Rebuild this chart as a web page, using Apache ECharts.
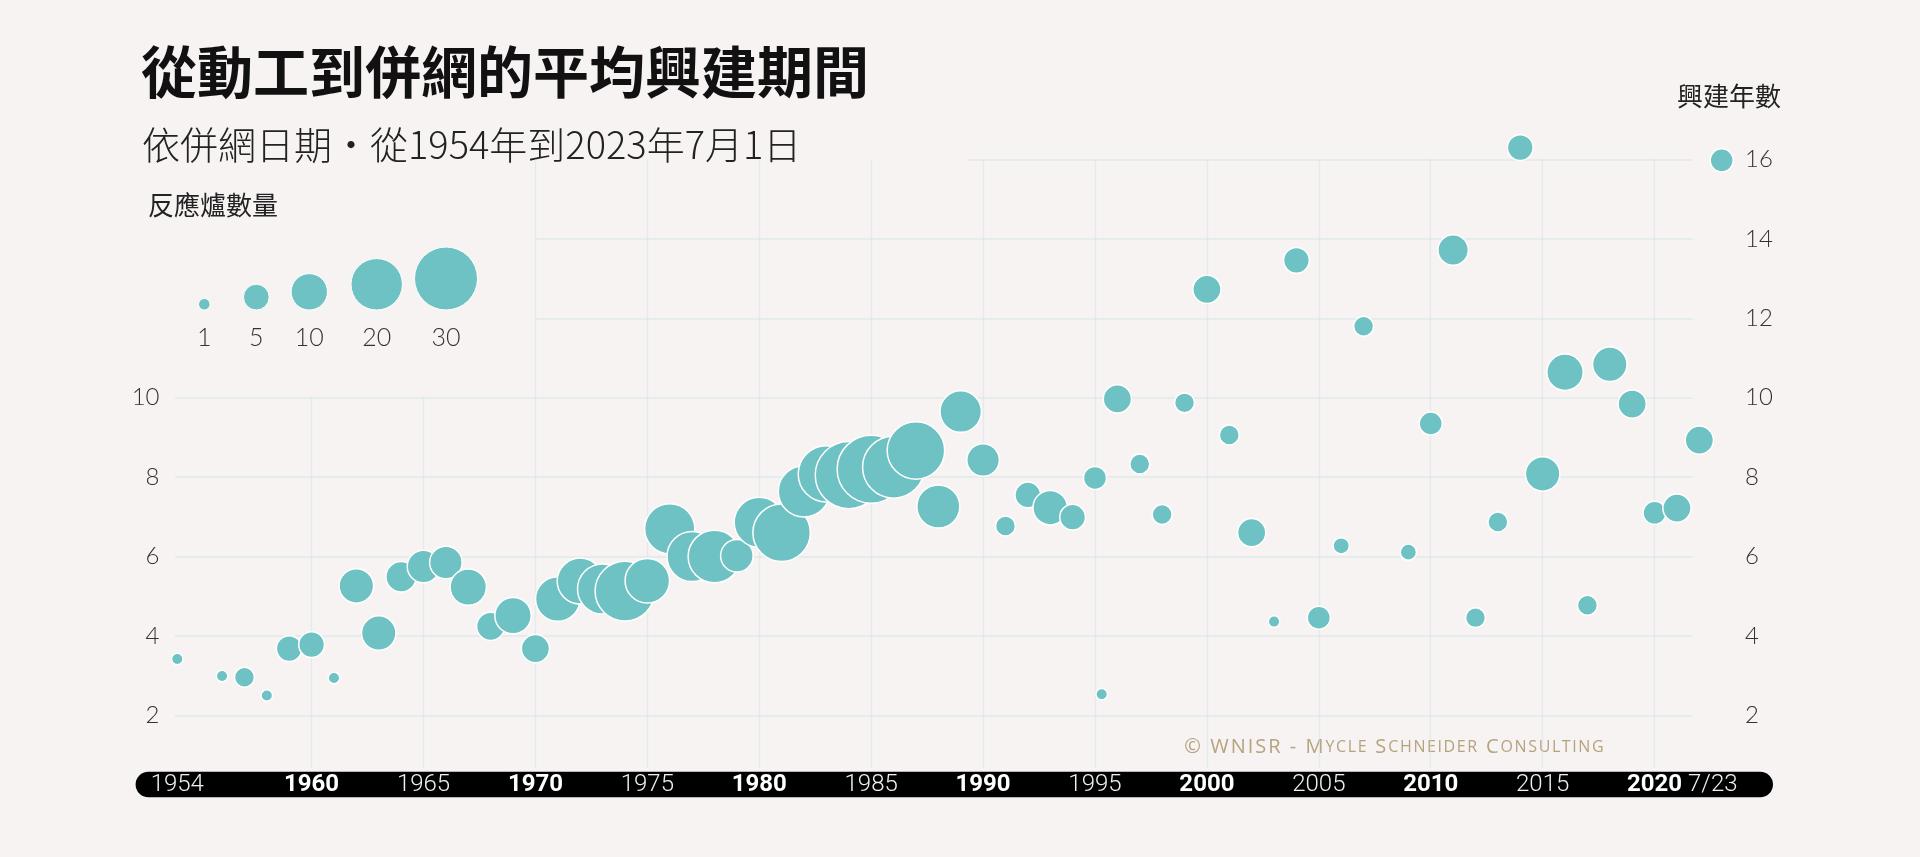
<!DOCTYPE html>
<html lang="zh-Hant">
<head>
<meta charset="utf-8">
<script src="https://cdn.jsdelivr.net/npm/echarts@6/dist/echarts.min.js"></script>
<style>
html,body{margin:0;padding:0;background:#f7f3f2;}
#chart{width:1920px;height:857px;}
</style>
</head>
<body>
<div id="chart"></div>
<script>
// ---- data ----
const years = [1954,1956,1957,1958,1959,1960,1961,1962,1963,1964,1965,1966,1967,1968,1969,1970,1971,1972,1973,1974,1975,1976,1977,1978,1979,1980,1981,1982,1983,1984,1985,1986,1987,1988,1989,1990,1991,1992,1993,1994,1995,1995.3,1996,1997,1998,1999,2000,2001,2002,2003,2004,2005,2006,2007,2009,2010,2011,2012,2013,2014,2015,2016,2017,2018,2019,2020,2021,2022,2023];
const buildYears = [3.42,2.99,2.96,2.50,3.68,3.78,2.94,5.26,4.07,5.49,5.75,5.85,5.23,4.24,4.51,3.68,4.93,5.38,5.18,5.13,5.39,6.70,6.00,6.00,6.02,6.86,6.60,7.64,8.08,8.05,8.20,8.25,8.67,7.26,9.65,8.43,6.77,7.55,7.23,6.99,7.98,2.53,9.97,8.33,7.06,9.87,12.73,9.06,6.60,4.36,13.46,4.46,6.27,11.80,6.11,9.35,13.72,4.46,6.87,16.30,8.08,10.64,4.77,10.84,9.84,7.10,7.22,8.93,15.98];
const reactorCounts = [1,1,3,1,5,5,1,9,9,7,8,8,10,6,10,6,15,16,19,27,15,19,19,21,8,19,25,20,24,34,35,29,25,14,13,8,3,5,9,5,4,1,6,3,3,3,6,3,6,1,5,4,2,3,2,4,7,3,3,5,9,10,3,9,6,4,6,6,4];

const xTickValues = [1954,1960,1965,1970,1975,1980,1985,1990,1995,2000,2005,2010,2015,2020,2022.6];
const xTickLabels = ['1954','1960','1965','1970','1975','1980','1985','1990','1995','2000','2005','2010','2015','2020','7/23'];
const leftTickValues = [2,4,6,8,10];
const rightTickValues = [2,4,6,8,10,12,14,16];
const legendCounts = [1,5,10,20,30];

// ---- styling / layout ----
const teal = '#6ec2c3';
const gridColor = '#d2e6e6';
const bg = '#f7f3f2';
const sizeOf = n => 11.5 * Math.sqrt(n);

const chart = echarts.init(document.getElementById('chart'), null, {renderer:'canvas'});

// grid line segments (decoration, in data coordinates)
const gridSegs = [];
leftTickValues.forEach(v => gridSegs.push({coords:[[1953.9, v],[2021.7, v]], lineStyle:{width:2, color:gridColor}}));
[12,14].forEach(v => gridSegs.push({coords:[[1970, v],[2021.7, v]], lineStyle:{width:2, color:gridColor}}));
gridSegs.push({coords:[[1989.3, 16],[2021.7, 16]], lineStyle:{width:2, color:gridColor}});
[1960,1965].forEach(x => gridSegs.push({coords:[[x, 0.67],[x, 10]], lineStyle:{width:1.3, color:'#cfe4e6'}}));
for (let x = 1970; x <= 2020; x += 5) gridSegs.push({coords:[[x, 0.67],[x, 16]], lineStyle:{width:1.3, color:'#cfe4e6'}});

const decades = new Set(['1960','1970','1980','1990','2000','2010','2020']);

// legend graphics
const legendX = [204.3, 256.3, 309.3, 376.7, 446];
const legendGraphics = [];
legendCounts.forEach((n, i) => {
  const r = sizeOf(n) / 2;
  legendGraphics.push({type:'circle', shape:{cx:legendX[i], cy:310 - r, r:r}, style:{fill:teal, stroke:'#fff', lineWidth:1}, silent:true});
  legendGraphics.push({type:'text', x:legendX[i], y:338, style:{text:String(n), font:'300 25px Lato', fill:'#333', textAlign:'center', textVerticalAlign:'middle'}, silent:true});
});

const hs = '\u200A';
const spaced = s => s.split('').join(hs);
const creditColor = '#b5a37e';

const option = {
  backgroundColor: bg,
  animation: false,
  grid: {left:160.5, right:175.9, top:119.8, bottom:82.15},
  xAxis: {
    type:'value', min:1953.25, max:2024, z:10,
    axisLine:{show:false}, axisTick:{show:false}, splitLine:{show:false},
    axisLabel:{
      customValues: xTickValues,
      margin:10, verticalAlign:'middle',
      formatter: v => {
        const idx = xTickValues.indexOf(v);
        const t = idx >= 0 ? xTickLabels[idx] : '';
        return decades.has(t) ? '{b|' + t + '}' : '{l|' + t + '}';
      },
      rich:{
        b:{fontFamily:'Roboto', fontWeight:'bold', fontSize:24, color:'#ffffff'},
        l:{fontFamily:'Roboto', fontWeight:300, fontSize:24, color:'#f0f0f0'}
      }
    }
  },
  yAxis: [
    {type:'value', position:'left', min:0.5, max:17,
     axisLine:{show:false}, axisTick:{show:false}, splitLine:{show:false},
     axisLabel:{customValues:leftTickValues, margin:1, fontFamily:'Lato', fontWeight:300, fontSize:24, color:'#333'}},
    {type:'value', position:'right', min:0.5, max:17,
     axisLine:{show:false}, axisTick:{show:false}, splitLine:{show:false},
     axisLabel:{customValues:rightTickValues, margin:1, fontFamily:'Lato', fontWeight:300, fontSize:24, color:'#333'}}
  ],
  series: [
    {type:'lines', coordinateSystem:'cartesian2d', z:1, silent:true, clip:false,
     polyline:false, effect:{show:false}, symbol:'none', data:gridSegs},
    {type:'scatter', z:3, silent:true,
     data: years.map((y, i) => [y, buildYears[i], reactorCounts[i]]),
     symbolSize: d => sizeOf(d[2]),
     itemStyle:{color:teal, borderColor:'#ffffff', borderWidth:1.5, opacity:1}}
  ],
  graphic: [
    {type:'rect', z:0, shape:{x:135.6, y:771.7, width:1637.4, height:25.6, r:12.8}, style:{fill:'#000'}, silent:true},
    {type:'text', x:141, y:72, style:{text:'從動工到併網的平均興建期間', font:'bold 56px "Noto Sans CJK TC"', fill:'#111', textVerticalAlign:'middle'}, silent:true},
    {type:'text', x:142, y:145, style:{text:'依併網日期・從1954年到2023年7月1日', font:'300 38px "Noto Sans CJK TC"', fill:'#222', textVerticalAlign:'middle'}, silent:true},
    {type:'text', x:148, y:205, style:{text:'反應爐數量', font:'26px "Noto Sans CJK TC"', fill:'#222', textVerticalAlign:'middle'}, silent:true},
    {type:'text', x:1729, y:96, style:{text:'興建年數', font:'26px "Noto Sans CJK TC"', fill:'#222', textAlign:'center', textVerticalAlign:'middle'}, silent:true},
    {type:'text', x:1394, y:747.5, style:{
      text:'{a|' + spaced('© WNISR - M') + hs + '}{b|' + spaced('YCLE') + hs + '}{a|' + spaced(' S') + hs + '}{b|' + spaced('CHNEIDER') + hs + '}{a|' + spaced(' C') + hs + '}{b|' + spaced('ONSULTING') + '}',
      textAlign:'center', textVerticalAlign:'middle', fill:creditColor,
      rich:{a:{fontFamily:'Open Sans', fontSize:20, fill:creditColor, color:creditColor}, b:{fontFamily:'Open Sans', fontSize:16, fill:creditColor, color:creditColor}}
    }, silent:true}
  ].concat(legendGraphics)
};
chart.setOption(option);
</script>
</body>
</html>
